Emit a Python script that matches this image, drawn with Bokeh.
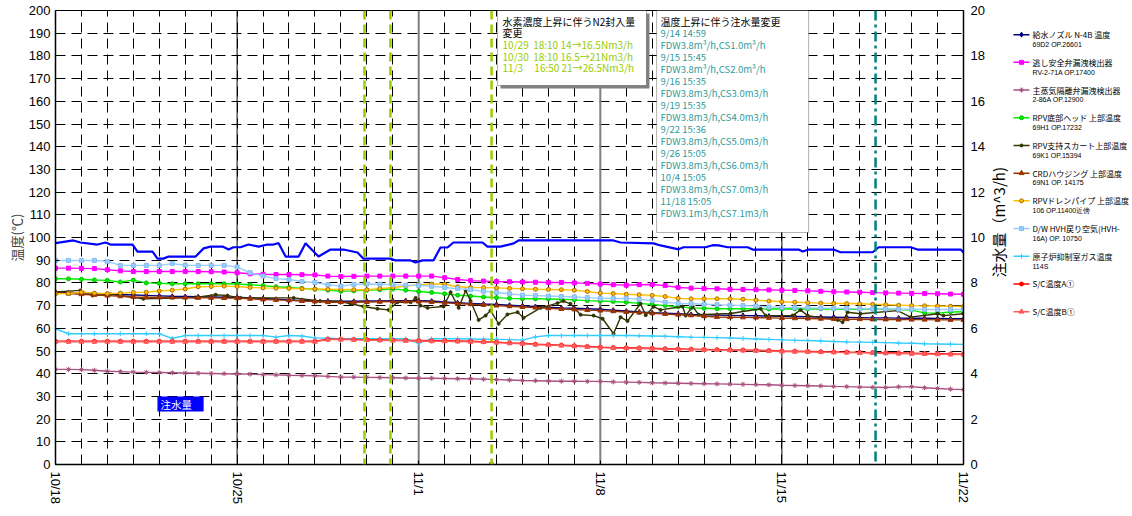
import math
from bokeh.plotting import figure
from bokeh.models import Range1d, LinearAxis, FixedTicker, Span, BoxAnnotation, Label
from bokeh.layouts import row
from bokeh.embed import file_html
from bokeh.resources import INLINE
from bokeh.core.properties import value

# ---------------- data ----------------
date_ticks = [0, 7, 14, 21, 28, 35]
date_labels = ["10/18", "10/25", "11/1", "11/8", "11/15", "11/22"]
n_days = 35

# half-day sampling positions (days since 10/18)
t_half = [i / 2 for i in range(71)]

navy_vals = [75.9, 75.7, 75.5, 75.3, 75.1, 74.9, 74.7, 74.5, 74.3, 74.1,
             74.0, 73.9, 73.8, 73.7, 73.7, 73.4, 73.1, 72.8, 72.5, 72.3,
             72.1, 72.0, 71.9, 71.9, 72.0, 72.1, 72.2, 72.2, 72.2, 72.0,
             71.6, 71.3, 71.0, 70.7, 70.5, 70.2, 69.9, 69.6, 69.3, 69.0,
             68.8, 68.6, 68.4, 68.0, 67.6, 67.2, 66.9, 66.7, 66.4, 66.1,
             65.9, 65.8, 65.7, 65.6, 65.5, 65.4, 65.3, 65.2, 65.1, 65.0,
             64.9, 64.8, 64.7, 64.6, 64.6, 64.5, 64.4, 64.4, 64.3, 64.2,
             64.2]
magenta_vals = [86.5, 86.5, 86.4, 86.3, 85.8, 85.3, 85.0, 85.0, 85.0, 85.0,
                85.0, 85.0, 84.9, 84.8, 84.5, 84.0, 83.8, 83.7, 83.7, 83.6,
                83.5, 83.0, 82.8, 82.9, 83.0, 83.0, 83.0, 83.0, 83.0, 83.0,
                82.3, 81.5, 81.0, 80.8, 80.6, 80.5, 80.4, 80.3, 80.2, 80.2,
                80.0, 79.8, 79.5, 79.2, 79.0, 79.2, 79.3, 78.8, 78.0, 77.7,
                77.5, 77.4, 77.2, 77.1, 77.0, 76.9, 76.8, 76.7, 76.5, 76.3,
                76.1, 76.0, 75.9, 75.7, 75.6, 75.5, 75.4, 75.3, 75.2, 75.1,
                75.0]
mauve_vals = [41.9, 41.9, 41.8, 41.5, 41.1, 40.9, 40.7, 40.6, 40.5, 40.4,
              40.3, 40.2, 40.1, 40.0, 39.9, 39.8, 39.6, 39.5, 39.3, 39.2,
              39.1, 38.8, 38.5, 38.5, 38.4, 38.3, 38.2, 38.1, 38.0, 38.0,
              37.9, 37.8, 37.8, 37.6, 37.4, 37.2, 37.0, 36.9, 36.8, 36.7,
              36.7, 36.6, 36.6, 36.4, 36.3, 36.2, 36.0, 35.9, 35.8, 35.7,
              35.6, 35.5, 35.4, 35.3, 35.2, 35.1, 34.9, 34.8, 34.7, 34.6,
              34.4, 34.3, 34.1, 34.0, 33.9, 34.2, 34.3, 33.8, 33.5, 33.2,
              33.0]
green_vals = [81.8, 81.8, 81.6, 81.3, 81.1, 80.4, 81.2, 80.0, 79.8, 79.6,
              79.6, 79.6, 79.6, 79.6, 79.5, 79.2, 78.8, 78.3, 78.0, 77.6,
              77.2, 76.8, 76.3, 76.5, 76.8, 77.0, 77.3, 76.8, 76.2, 75.8,
              75.2, 74.6, 74.2, 73.8, 73.5, 73.2, 73.0, 73.0, 72.9, 72.8,
              72.5, 72.2, 72.0, 71.8, 71.5, 71.0, 70.5, 70.0, 69.5, 69.0,
              68.8, 68.6, 68.6, 68.6, 68.6, 68.5, 68.5, 68.6, 68.5, 68.6,
              68.5, 68.4, 68.5, 68.4, 68.5, 68.3, 68.0, 66.8, 66.7, 67.2,
              67.3]
olive_days = [0, 0.96, 1.43, 2.12, 3.39, 5.40, 6.17, 6.63, 7.13, 9.18,
              10.2, 10.99, 11.37, 11.87, 12.41, 12.84, 13.18, 13.69, 13.88, 14.07,
              14.34, 14.96, 15.23, 15.54, 15.81, 16.00, 16.31, 16.58, 16.77, 17.08,
              17.42, 17.81, 18.04, 18.70, 19.35, 19.58, 19.85, 20.24, 20.74, 21.09,
              21.51, 21.78, 22.05, 22.55, 22.75, 23.05, 23.32, 24.17, 24.29, 24.56,
              24.79, 26.02, 27.18, 27.37, 28.41, 28.72, 28.99, 30.15, 30.34, 30.53,
              31.03, 32.46, 32.96, 34.00, 34.23, 35.0]
olive_vals = [76.0, 76.7, 74.4, 75.0, 73.0, 73.6, 74.8, 74.4, 73.4, 73.4,
              72.0, 71.8, 70.8, 69.6, 68.6, 68.1, 71.5, 71.5, 73.4, 70.0,
              69.0, 69.6, 75.9, 69.0, 76.7, 72.0, 63.7, 65.6, 67.8, 62.0,
              66.1, 67.1, 64.6, 69.0, 71.1, 72.0, 70.8, 66.0, 65.6, 64.2,
              57.6, 64.9, 63.2, 70.8, 65.8, 69.5, 68.1, 69.6, 65.6, 69.6,
              66.0, 66.5, 68.6, 65.6, 65.6, 68.1, 65.6, 63.7, 62.7, 67.1,
              66.4, 67.8, 64.9, 66.4, 65.6, 66.4]
brown_vals = [75.6, 75.3, 75.0, 74.7, 74.4, 74.1, 73.8, 73.7, 73.6, 73.5,
              73.5, 73.4, 73.4, 73.3, 73.3, 73.0, 72.7, 72.5, 72.3, 72.0,
              71.8, 71.5, 71.5, 71.5, 71.6, 71.7, 71.8, 71.8, 71.8, 71.6,
              71.2, 70.9, 70.6, 70.3, 70.0, 69.7, 69.4, 69.1, 68.8, 68.5,
              68.3, 68.0, 67.8, 67.5, 67.2, 66.9, 66.6, 66.3, 66.0, 65.7,
              65.3, 65.0, 64.9, 64.8, 64.7, 64.6, 64.5, 64.4, 64.3, 64.2,
              64.1, 64.0, 64.0, 63.9, 63.9, 63.8, 63.8, 63.8, 63.7, 63.7,
              63.7]
orange_vals = [75.2, 75.3, 75.9, 75.5, 75.3, 75.5, 75.8, 75.9, 76.4, 76.8,
               77.3, 78.3, 78.4, 78.6, 78.4, 78.0, 77.8, 77.7, 77.6, 77.4,
               77.3, 77.2, 77.1, 77.0, 77.0, 77.5, 78.0, 78.6, 79.2, 79.5,
               79.4, 78.3, 78.0, 77.9, 77.8, 77.6, 77.4, 77.2, 77.1, 77.0,
               76.8, 76.2, 75.5, 75.3, 75.0, 74.8, 74.5, 74.0, 73.2, 73.0,
               73.0, 73.0, 73.0, 72.8, 72.4, 72.0, 71.7, 71.5, 71.3, 71.1,
               71.0, 70.9, 70.8, 70.6, 70.4, 70.2, 70.0, 69.9, 69.8, 69.7,
               69.6]
lightblue_vals = [89.9, 89.9, 89.9, 89.9, 89.5, 87.7, 87.7, 87.7, 87.7, 88.5,
                  87.8, 87.7, 87.7, 87.7, 87.0, 84.5, 83.0, 81.9, 81.5, 80.6,
                  80.2, 79.2, 78.6, 79.3, 79.5, 79.4, 79.2, 79.0, 78.9, 78.5,
                  78.0, 77.5, 77.0, 76.3, 75.8, 75.2, 74.6, 74.4, 74.2, 74.0,
                  73.8, 73.5, 73.2, 73.1, 73.2, 72.8, 72.2, 71.5, 71.0, 70.8,
                  70.6, 70.4, 70.2, 70.0, 69.8, 69.4, 69.2, 69.1, 69.0, 68.9,
                  68.8, 68.7, 68.6, 68.5, 68.5, 68.4, 68.4, 68.3, 68.3, 68.3,
                  68.3]
cyan_vals = [59.8, 57.6, 57.6, 57.6, 57.6, 57.6, 57.6, 57.6, 57.6, 55.6,
             56.8, 56.8, 56.8, 56.8, 56.8, 56.8, 56.8, 56.1, 56.8, 56.6,
             55.8, 55.6, 55.3, 55.4, 55.4, 55.4, 55.4, 55.4, 53.5, 55.4,
             55.4, 55.4, 55.3, 55.2, 55.1, 55.0, 54.8, 56.2, 56.8, 56.8,
             56.8, 56.8, 56.8, 56.8, 56.8, 56.7, 56.6, 56.5, 56.3, 56.1,
             56.0, 55.9, 55.7, 55.5, 55.3, 55.1, 54.9, 54.7, 54.6, 54.4,
             54.2, 54.0, 53.9, 53.8, 53.7, 53.5, 53.4, 53.2, 53.1, 53.0,
             52.9]
sc_a_vals = [54.3, 54.3, 54.3, 54.3, 54.3, 54.3, 54.3, 54.3, 54.3, 54.3,
             54.3, 54.3, 54.3, 54.3, 54.3, 54.3, 54.3, 54.3, 54.3, 54.3,
             54.3, 55.2, 55.2, 55.1, 55.0, 54.9, 54.8, 54.7, 54.6, 54.5,
             54.5, 54.4, 54.3, 54.1, 53.9, 53.6, 53.4, 53.0, 52.8, 52.6,
             52.3, 52.0, 51.7, 51.5, 51.4, 51.3, 51.2, 51.0, 50.9, 50.8,
             50.7, 50.6, 50.5, 50.4, 50.3, 50.2, 50.0, 49.9, 49.8, 49.7,
             49.6, 49.5, 49.4, 49.3, 49.2, 49.1, 49.0, 48.9, 48.8, 48.7,
             48.6]
sc_b_vals = [54.1, 54.1, 54.1, 54.1, 54.1, 54.1, 54.1, 54.1, 54.1, 54.1,
             54.1, 54.1, 54.1, 54.1, 54.1, 54.1, 54.1, 54.1, 54.1, 54.1,
             54.1, 55.0, 55.0, 54.9, 54.8, 54.7, 54.6, 54.5, 54.4, 54.3,
             54.3, 54.2, 54.1, 53.9, 53.7, 53.4, 53.2, 52.8, 52.6, 52.4,
             52.1, 51.8, 51.5, 51.3, 51.2, 51.1, 51.0, 50.8, 50.7, 50.6,
             50.5, 50.4, 50.3, 50.2, 50.1, 50.0, 49.8, 49.7, 49.6, 49.5,
             49.4, 49.3, 49.2, 49.1, 49.0, 48.9, 48.8, 48.7, 48.6, 48.5,
             48.4]

# water injection (m3/h, right axis)
water_days = [0, 0.69, 0.96, 1.62, 1.93, 2.12, 2.97, 3.16, 3.74, 3.93,
              4.16, 4.36, 5.40, 5.71, 5.98, 6.44, 6.67, 6.86, 7.13, 7.44,
              7.83, 8.17, 8.40, 8.60, 8.87, 9.37, 9.64, 9.91, 10.14, 10.60,
              11.10, 11.64, 11.87, 12.91, 13.11, 13.69, 13.88, 14.15, 14.57, 14.84,
              15.11, 15.34, 16.46, 16.65, 17.15, 17.66, 17.85, 21.51, 21.78, 23.05,
              23.32, 24.02, 24.21, 25.06, 25.33, 25.56, 25.91, 26.68, 26.87, 28.64,
              28.80, 29.03, 29.99, 30.26, 31.50, 31.73, 32.96, 33.23, 34.89, 35.0]
water_vals = [9.75, 9.87, 9.78, 9.69, 9.78, 9.69, 9.69, 9.38, 9.38, 9.07,
              9.07, 9.16, 9.16, 9.52, 9.60, 9.60, 9.47, 9.57, 9.57, 9.69,
              9.60, 9.69, 9.69, 9.75, 9.16, 9.16, 9.75, 9.43, 9.16, 9.47,
              9.47, 9.34, 9.07, 9.07, 8.99, 8.99, 8.90, 8.99, 8.99, 9.56,
              9.56, 9.78, 9.78, 9.60, 9.60, 9.74, 9.87, 9.87, 9.78, 9.74,
              9.65, 9.48, 9.57, 9.57, 9.66, 9.65, 9.57, 9.57, 9.47, 9.47,
              9.38, 9.47, 9.47, 9.35, 9.35, 9.57, 9.57, 9.47, 9.47, 9.34]

marker_day = [16.8]
marker_val = [0]

# event lines (days since 10/18)
n2_event_days = [11.91, 12.91, 16.81]
water_event_days = [31.61]

legend_line1 = ["給水ノズル N-4B 温度", "逃し安全弁漏洩検出器", "主蒸気隔離弁漏洩検出器",
                "RPV底部ヘッド 上部温度", "RPV支持スカート上部温度", "CRDハウジング 上部温度",
                "RPVドレンパイプ 上部温度", "D/W HVH戻り空気(HVH-", "原子炉抑制室ガス温度",
                "S/C温度A①", "S/C温度B①"]
legend_line2 = ["69D2 OP.26601", "RV-2-71A OP.17400", "2-86A OP.12900", "69H1 OP.17232",
                "69K1 OP.15394", "69N1 OP. 14175", "106 OP.11400近傍", "16A) OP. 10750",
                "114S", "", ""]

NB = "\u00a0"
box1_lines = ["水素濃度上昇に伴うN2封入量", "変更",
              "10/29" + NB * 2 + "18:10 14→16.5Nm3/h",
              "10/30" + NB * 2 + "18:10 16.5→21Nm3/h",
              "11/3" + NB * 5 + "16:50 21→26.5Nm3/h"]
box2_lines = ["温度上昇に伴う注水量変更", "9/14 14:59", "FDW3.8m³/h,CS1.0m³/h",
              "9/15 15:45", "FDW3.8m³/h,CS2.0m³/h", "9/16 15:35", "FDW3.8m3/h,CS3.0m3/h",
              "9/19 15:35", "FDW3.8m3/h,CS4.0m3/h", "9/22 15:36", "FDW3.8m3/h,CS5.0m3/h",
              "9/26 15:05", "FDW3.8m3/h,CS6.0m3/h", "10/4 15:05", "FDW3.8m3/h,CS7.0m3/h",
              "11/18 15:05", "FDW3.1m3/h,CS7.1m3/h"]

# ---------------- styles ----------------
series_days = [t_half, t_half, t_half, t_half, olive_days, t_half, t_half, t_half, t_half, t_half, t_half]
series_vals = [navy_vals, magenta_vals, mauve_vals, green_vals, olive_vals, brown_vals,
               orange_vals, lightblue_vals, cyan_vals, sc_a_vals, sc_b_vals]
colors = ["#000080", "#FF00FF", "#A8507F", "#00F000", "#333300", "#993300",
          "#FFC000", "#99CCFF", "#33CCFF", "#FF0000", "#FF5A5A"]
marker_edge = ["#000080", "#FF00FF", "#A8507F", "#00C000", "#333300", "#993300",
               "#B36B00", "#88BBEE", "#33CCFF", "#FF0000", "#FF5A5A"]
markers = ["diamond", "square", "asterisk", "circle", "circle", "triangle",
           "circle", "square", "cross", "circle", "triangle"]
msizes = [5, 4, 5, 4, 3, 5, 4, 4, 5, 4, 5]

FONT = "Noto Sans CJK JP"
NUMF = "Liberation Sans"
FW, FH = 908, 454
TOP, BOT, LEFT, RIGHT = 10, 44, 55, 24
H = TOP + FH + BOT
ppu = FH / 200.0
ppd = FW / n_days

p = figure(frame_width=FW, frame_height=FH, x_range=Range1d(0, n_days), y_range=Range1d(0, 200),
           output_backend="svg", toolbar_location=None,
           min_border_left=LEFT, min_border_right=RIGHT, min_border_top=TOP, min_border_bottom=BOT)
p.extra_y_ranges = {"water": Range1d(0, 20)}
p.background_fill_color = "white"
p.outline_line_color = "black"
p.outline_line_width = 1

# axes
ax = p.xaxis[0]
ax.ticker = FixedTicker(ticks=list(range(n_days + 1)))
ax.major_label_overrides = {i: "" for i in range(n_days + 1)}
for t, lab in zip(date_ticks, date_labels):
    ax.major_label_overrides[t] = lab
ax.major_label_orientation = -math.pi / 2
ay = p.yaxis[0]
ay.ticker = FixedTicker(ticks=list(range(0, 201, 10)))
ay.axis_label = "温度(℃)"
ay.axis_label_text_font = FONT
ay.axis_label_text_font_size = "13px"
ay.axis_label_text_font_style = "normal"
ay.axis_label_standoff = 0
ar = LinearAxis(y_range_name="water", ticker=FixedTicker(ticks=list(range(0, 21, 2))))
p.add_layout(ar, "right")
for a in (ax, ay, ar):
    a.major_tick_in = 4
    a.major_tick_out = 0
    a.minor_tick_line_color = None
    a.axis_line_color = "black"
    a.axis_line_width = 1.5
    a.major_tick_line_color = "black"
    a.major_label_text_font = NUMF
    a.major_label_text_font_size = "13px"
    a.major_label_text_color = "black"
ax.major_label_standoff = 7
ay.major_label_standoff = 5
ar.major_label_standoff = 7

# grid
p.xgrid.ticker = FixedTicker(ticks=list(range(1, n_days)))
p.ygrid.ticker = FixedTicker(ticks=list(range(10, 200, 10)))
for g in (p.xgrid[0], p.ygrid[0]):
    g.grid_line_color = "black"
    g.grid_line_alpha = 1
    g.grid_line_width = 1
    g.grid_line_dash = "10 6"

# weekly solid lines
for t in date_ticks[1:-1]:
    heavy = t in (14, 21)
    p.add_layout(Span(location=t, dimension="height", line_color="#7f7f7f" if heavy else "black",
                      line_width=2 if heavy else 1, level="underlay"))

# series
for d, v, c, me, m, s in zip(series_days, series_vals, colors, marker_edge, markers, msizes):
    p.line(d, v, line_color=c, line_width=1.4)
    p.scatter(d, v, marker=m, size=s, fill_color=c, line_color=me, line_width=1)

p.line(water_days, water_vals, y_range_name="water", line_color="#0000FF", line_width=2.2)
p.scatter(marker_day, marker_val, marker="x", size=6, line_color="#C0504D", line_width=1.5)

# event lines
for d in n2_event_days:
    p.add_layout(Span(location=d, dimension="height", line_color="#99CC00", line_width=2.5, line_dash="9 5"))
for d in water_event_days:
    p.add_layout(Span(location=d, dimension="height", line_color="#008080", line_width=2.5, line_dash="10 4 3 4"))

# annotation boxes
b1l, b1r = 17.04, 22.78
b2l, b2r = 23.17, 29.03
p.add_layout(BoxAnnotation(left=b1l + 3 / ppd, right=b1r + 3 / ppd, top=200 - 3 / ppu, bottom=200 - 78 / ppu,
                           fill_color="#808080", fill_alpha=1, line_color=None))
p.add_layout(BoxAnnotation(left=b1l, right=b1r, top=200, bottom=200 - 75 / ppu,
                           fill_color="white", fill_alpha=1, line_color="black", line_width=1))
p.add_layout(BoxAnnotation(left=b2l, right=b2r, top=200, bottom=200 - 222 / ppu,
                           fill_color="white", fill_alpha=1, line_color="black", line_width=1))
for i, txt in enumerate(box1_lines):
    p.add_layout(Label(x=b1l, y=200, x_offset=5, y_offset=-(10.7 + 11.6 * i), text=txt,
                       text_font=FONT, text_font_size="10px", text_baseline="middle",
                       text_color="black" if i < 2 else "#99CC00"))
for i, txt in enumerate(box2_lines):
    p.add_layout(Label(x=b2l, y=200, x_offset=4, y_offset=-(10.7 + 11.97 * i), text=txt,
                       text_font=FONT, text_font_size="10px" if i == 0 else "9.5px",
                       text_baseline="middle",
                       text_color="black" if i == 0 else "#2E9A9A"))

# 注水量 tag
p.add_layout(BoxAnnotation(left=3.93, right=5.71, bottom=23.3, top=29.96,
                           fill_color="#0000FF", fill_alpha=1, line_color=None))
p.add_layout(Label(x=3.93, y=26.6, x_offset=3, text="注水量", text_font=FONT,
                   text_font_size="10.5px", text_baseline="middle", text_color="white"))

# ---------------- legend figure ----------------
main_w = LEFT + FW + RIGHT
LW = 1132 - main_w
lg = figure(width=LW, height=H, x_range=Range1d(0, LW), y_range=Range1d(0, H),
            output_backend="svg", toolbar_location=None, min_border=0,
            x_axis_type=None, y_axis_type=None)
lg.grid.visible = False
lg.outline_line_color = None
lg.background_fill_color = "white"

lg.text(x=[11], y=[H - 237], text=["注水量（m^3/h)"], angle=math.pi / 2,
        text_font=value(FONT), text_font_size=value("15px"),
        text_align="center", text_baseline="middle", text_color="black")

top_page, step = 27, 31
x0, x1, xt = 26, 42, 45
for i in range(len(legend_line1)):
    yy = H - (top_page + step * i)
    lg.segment(x0=[x0], y0=[yy], x1=[x1], y1=[yy], line_color=colors[i], line_width=1.5)
    lg.scatter([(x0 + x1) / 2], [yy], marker=markers[i], size=msizes[i],
               fill_color=colors[i], line_color=marker_edge[i])
    lg.text(x=[xt], y=[yy], text=[legend_line1[i]], text_font=value(FONT),
            text_font_size=value("8px"), text_baseline="middle", text_color="black")
    if legend_line2[i]:
        lg.text(x=[xt], y=[yy - 11], text=[legend_line2[i]], text_font=value(NUMF),
                text_font_size=value("7px"), text_baseline="middle", text_color="black")

layout = row(p, lg)
with open("out.html", "w", encoding="utf-8") as f:
    f.write(file_html(layout, INLINE))
